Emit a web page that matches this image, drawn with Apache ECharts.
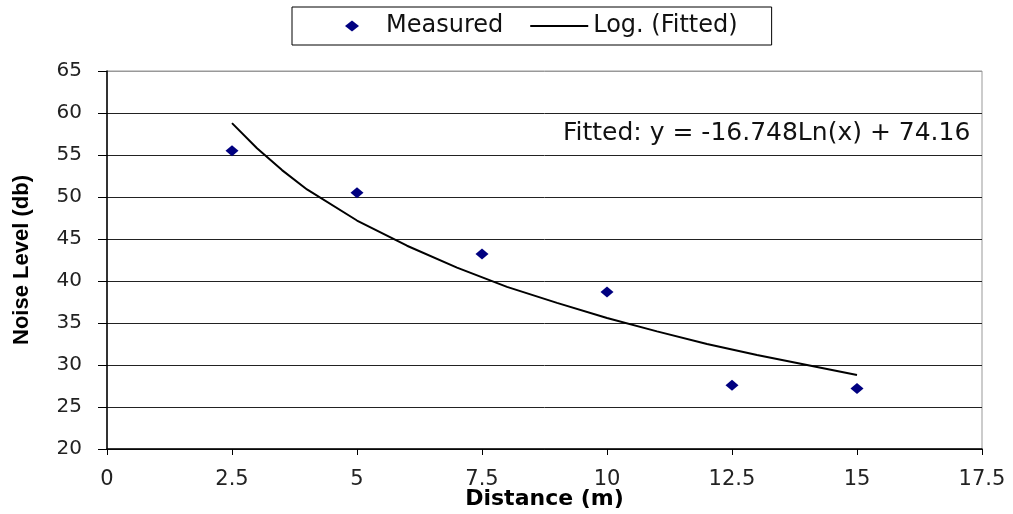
<!DOCTYPE html>
<html>
<head>
<meta charset="utf-8">
<style>
  html, body { margin: 0; padding: 0; background: #fff; }
  #chart { width: 1013px; height: 514px; }
</style>
<script src="https://cdn.jsdelivr.net/npm/echarts@6/dist/echarts.min.js"></script>
</head>
<body>
<div id="chart"></div>
<script>
// measured points (distance m, noise db)
var measuredX = [2.5, 5, 7.5, 10, 12.5, 15];
var measuredY = [55.5, 50.5, 43.2, 38.7, 27.6, 27.2];

// fitted log curve
var fittedX = [2.5, 3, 3.5, 4, 5, 6, 7, 8, 9, 10, 11, 12, 13, 14, 15];
var fittedY = [58.8, 55.8, 53.2, 50.9, 47.2, 44.2, 41.6, 39.3, 37.4, 35.6, 34.0, 32.5, 31.2, 30.0, 28.8];

var fitLabel = "Fitted: y = -16.748Ln(x) + 74.16";

var myChart = echarts.init(document.getElementById("chart"));

var font = "DejaVu Sans";

myChart.setOption({
  backgroundColor: "#fff",
  animation: false,
  legend: {
    left: 292,
    top: 7,
    padding: [7, 34, 7, 31],
    borderColor: "#000",
    borderWidth: 1,
    itemWidth: 58,
    itemHeight: 11,
    itemGap: 27,
    symbolKeepAspect: true,
    textStyle: { fontFamily: font, fontSize: 24, color: "#111" },
    data: [
      // diamond centred in a 58x11 box (the leading moves set the box)
      { name: "Measured", icon: "path://M0,0 M58,11 M22,5.5 L29,0 L36,5.5 L29,11 Z", itemStyle: { color: "#000080", opacity: 1 } },
      { name: "Log. (Fitted)", icon: "path://M0,0 L58,0 L58,2 L0,2 Z", itemStyle: { color: "#000" } }
    ]
  },
  grid: {
    left: 107,
    right: 31,
    top: 71,
    bottom: 65,
    outerBoundsMode: "none",
    show: true,
    borderColor: "#999",
    borderWidth: 1
  },
  xAxis: {
    type: "value",
    min: 0,
    max: 17.5,
    interval: 2.5,
    name: "Distance (m)",
    nameLocation: "middle",
    nameGap: 39,
    nameMoveOverlap: false,
    nameTextStyle: {
      fontFamily: font,
      fontWeight: "bold",
      fontSize: 22,
      color: "#000"
    },
    axisLine: { lineStyle: { color: "#000", width: 1.5 } },
    axisTick: { show: true, length: 6, lineStyle: { color: "#000" } },
    axisLabel: {
      fontFamily: font,
      fontSize: 21,
      color: "#222",
      margin: 20
    },
    splitLine: { show: false }
  },
  yAxis: {
    type: "value",
    min: 20,
    max: 65,
    interval: 5,
    name: "Noise Level (db)",
    nameLocation: "middle",
    nameGap: 74,
    nameMoveOverlap: false,
    nameTextStyle: {
      fontFamily: "Liberation Sans",
      fontWeight: "bold",
      fontSize: 22,
      color: "#000"
    },
    axisLine: { show: true, lineStyle: { color: "#000", width: 1.5 } },
    axisTick: { show: true, length: 9, lineStyle: { color: "#000" } },
    axisLabel: {
      fontFamily: font,
      fontSize: 20,
      color: "#222",
      margin: 25
    },
    splitLine: {
      show: true,
      lineStyle: {
        // last line (65) is the lighter plot border
        color: ["#222", "#222", "#222", "#222", "#222", "#222", "#222", "#222", "#222", "#999"],
        width: 1
      }
    }
  },
  graphic: [
    {
      type: "text",
      left: 563,
      top: 121,
      style: {
        text: fitLabel,
        fontFamily: font,
        fontSize: 25,
        fill: "#111"
      }
    }
  ],
  series: [
    {
      name: "Log. (Fitted)",
      type: "line",
      symbol: "none",
      lineStyle: { color: "#000", width: 2 },
      itemStyle: { color: "#000" },
      data: fittedX.map(function(x, i) {
        return [x, fittedY[i]];
      }),
      z: 3
    },
    {
      name: "Measured",
      type: "scatter",
      symbol: "diamond",
      symbolSize: [13, 11],
      itemStyle: { color: "#000080", opacity: 1 },
      data: measuredX.map(function(x, i) {
        return [x, measuredY[i]];
      }),
      z: 4
    }
  ]
});
</script>
</body>
</html>
